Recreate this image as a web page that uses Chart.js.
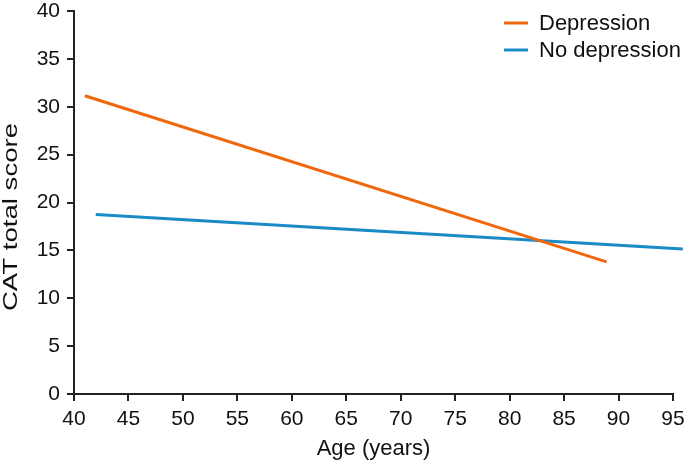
<!DOCTYPE html>
<html>
<head>
<meta charset="utf-8">
<script src="https://cdn.jsdelivr.net/npm/chart.js@4/dist/chart.umd.min.js"></script>
<style>
html,body{margin:0;padding:0;background:#fff;}
#wrap{width:685px;height:464px;position:relative;}
</style>
</head>
<body>
<div id="wrap"><canvas id="c" width="685" height="464"></canvas></div>
<script>
const seriesNames = ['Depression', 'No depression'];
const depressionAge = [41, 88.9];
const depressionScore = [31.15, 13.8];
const noDepressionAge = [42, 95.9];
const noDepressionScore = [18.75, 15.15];
const xTicks = [40,45,50,55,60,65,70,75,80,85,90,95];
const yTicks = [0,5,10,15,20,25,30,35,40];
const xTitle = 'Age (years)';
const yTitle = 'CAT total score';
const colors = ['#f0680e', '#1b8bc8'];

function pts(xs, ys){ return xs.map((x,i)=>({x:x, y:ys[i]})); }
const FAM = '"Liberation Sans", Arial, sans-serif';

const textPlugin = {
  id: 'customText',
  afterDraw(chart){
    const ctx = chart.ctx;
    ctx.save();
    ctx.font = '22px ' + FAM;
    ctx.textBaseline = 'middle';
    ctx.textAlign = 'left';
    chart.data.datasets.forEach((ds, i) => {
      const y = 23 + i * 27;
      ctx.strokeStyle = ds.borderColor;
      ctx.lineWidth = 3;
      ctx.beginPath();
      ctx.moveTo(504, y);
      ctx.lineTo(528, y);
      ctx.stroke();
      ctx.fillStyle = '#111';
      ctx.fillText(ds.label, 539, y + 1);
    });
    // y axis title
    ctx.translate(10, 217);
    ctx.rotate(-Math.PI / 2);
    ctx.scale(1.38, 1);
    ctx.font = '20px ' + FAM;
    ctx.textAlign = 'center';
    ctx.textBaseline = 'middle';
    ctx.fillText(yTitle, 0, 1);
    ctx.restore();
  }
};

const tickFont = {family: FAM, size: 21};
const titleFont = {family: FAM, size: 22};

new Chart(document.getElementById('c'), {
  type: 'scatter',
  data: {
    datasets: [
      {label: seriesNames[0], data: pts(depressionAge, depressionScore), showLine: true, borderColor: colors[0], backgroundColor: colors[0], borderWidth: 3, pointRadius: 0, clip: false},
      {label: seriesNames[1], data: pts(noDepressionAge, noDepressionScore), showLine: true, borderColor: colors[1], backgroundColor: colors[1], borderWidth: 3, pointRadius: 0, clip: false}
    ]
  },
  options: {
    responsive: false,
    animation: false,
    layout: {padding: {top: 11, right: 12, left: 0, bottom: 0}},
    plugins: {legend: {display: false}, tooltip: {enabled: false}},
    scales: {
      x: {
        type: 'linear', min: 40, max: 95,
        afterBuildTicks(s){ s.ticks = xTicks.map(v=>({value:v})); },
        afterFit(s){ s.height = 70; s.paddingLeft = 0; s.paddingRight = 0; },
        grid: {drawOnChartArea: false, drawTicks: true, tickLength: 7, color: '#222', lineWidth: 2},
        border: {display: true, color: '#222', width: 2},
        ticks: {color: '#111', font: tickFont, padding: 6, maxRotation: 0, autoSkip: false},
        title: {display: true, text: xTitle, color: '#111', font: titleFont, padding: {top: 0, bottom: 2}}
      },
      y: {
        type: 'linear', min: 0, max: 40,
        afterBuildTicks(s){ s.ticks = yTicks.map(v=>({value:v})); },
        afterFit(s){ s.width = 74; s.paddingTop = 0; s.paddingBottom = 0; },
        grid: {drawOnChartArea: false, drawTicks: true, tickLength: 7, color: '#222', lineWidth: 2},
        border: {display: true, color: '#222', width: 2},
        ticks: {color: '#111', font: tickFont, padding: 7, autoSkip: false},
        title: {display: false}
      }
    }
  },
  plugins: [textPlugin]
});
</script>
</body>
</html>
